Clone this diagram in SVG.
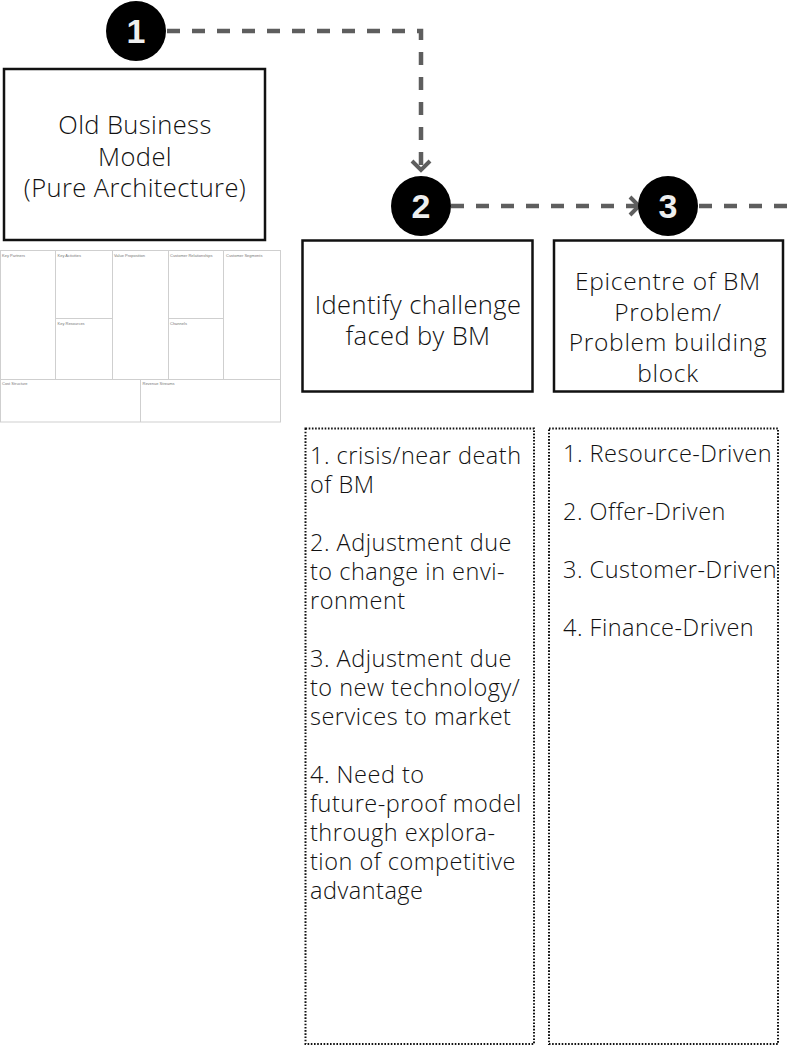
<svg xmlns="http://www.w3.org/2000/svg" width="787" height="1047" viewBox="0 0 787 1047">
  <defs>
    <style>
      .box { fill: #fff; stroke: #111; stroke-width: 2.5; }
      .dotbox { fill: none; stroke: #111; stroke-width: 2; stroke-dasharray: 1.6 1.6; }
      .label { font-family: "Open Sans", "Liberation Sans", sans-serif; font-weight: 300; font-size: 25.5px; letter-spacing: 0.4px; fill: #111; text-anchor: middle; }
      .label.tight { font-size: 24.5px; letter-spacing: 0.7px; }
      .item { font-family: "Open Sans", "Liberation Sans", sans-serif; font-weight: 300; font-size: 23.5px; letter-spacing: 0.5px; fill: #111; }
      .badge { fill: #000; }
      .num { font-family: "Liberation Sans", Arial, sans-serif; font-weight: bold; font-size: 34px; fill: #eeeeee; text-anchor: middle; }
      .link { fill: none; stroke: #5e5e5e; stroke-width: 4.5; stroke-dasharray: 13 12; }
      .cv { fill: none; stroke: #cfcfcf; stroke-width: 1; }
      .cvt { font-family: "Liberation Sans", Arial, sans-serif; font-size: 4px; fill: #777; }
    </style>
    <marker id="chevron" markerWidth="24" markerHeight="24" refX="12" refY="12" orient="auto" markerUnits="userSpaceOnUse">
      <polyline points="3,3 12,12 3,21" fill="none" stroke="#5e5e5e" stroke-width="4"/>
    </marker>
  </defs>

  <rect width="787" height="1047" fill="#fff"/>

  <!-- connectors between the numbered steps -->
  <g id="connectors">
    <polyline class="link" points="167,31 421,31 421,170" marker-end="url(#chevron)"/>
    <line class="link" x1="451" y1="206" x2="639" y2="206" marker-end="url(#chevron)"/>
    <line class="link" x1="699" y1="206" x2="787" y2="206"/>
  </g>

  <!-- step badges -->
  <g id="step1">
    <circle class="badge" cx="136" cy="31" r="30"/>
    <text class="num" x="136" y="43">1</text>
  </g>
  <g id="step2">
    <circle class="badge" cx="421" cy="206" r="30"/>
    <text class="num" x="421" y="218">2</text>
  </g>
  <g id="step3">
    <circle class="badge" cx="668" cy="206" r="30"/>
    <text class="num" x="668" y="218">3</text>
  </g>

  <!-- old business model -->
  <g id="old-model">
    <rect class="box" x="4" y="69" width="261" height="171"/>
    <text class="label" x="135" y="134">Old Business</text>
    <text class="label" x="135" y="165.5">Model</text>
    <text class="label" x="135" y="197">(Pure Architecture)</text>
  </g>

  <!-- business model canvas thumbnail -->
  <g id="canvas">
    <rect class="cv" x="0.5" y="250.5" width="280" height="171.5"/>
    <line class="cv" x1="55.5" y1="250.5" x2="55.5" y2="379.5"/>
    <line class="cv" x1="112.5" y1="250.5" x2="112.5" y2="379.5"/>
    <line class="cv" x1="168.5" y1="250.5" x2="168.5" y2="379.5"/>
    <line class="cv" x1="223.5" y1="250.5" x2="223.5" y2="379.5"/>
    <line class="cv" x1="55.5" y1="318.5" x2="112.5" y2="318.5"/>
    <line class="cv" x1="168.5" y1="318.5" x2="223.5" y2="318.5"/>
    <line class="cv" x1="0.5" y1="379.5" x2="280.5" y2="379.5"/>
    <line class="cv" x1="140.5" y1="379.5" x2="140.5" y2="422"/>
    <text class="cvt" x="2" y="257">Key Partners</text>
    <text class="cvt" x="57.5" y="257">Key Activities</text>
    <text class="cvt" x="114" y="257">Value Proposition</text>
    <text class="cvt" x="170" y="257">Customer Relationships</text>
    <text class="cvt" x="226" y="257">Customer Segments</text>
    <text class="cvt" x="57.5" y="324.5">Key Resources</text>
    <text class="cvt" x="170" y="324.5">Channels</text>
    <text class="cvt" x="2" y="385">Cost Structure</text>
    <text class="cvt" x="142.5" y="385">Revenue Streams</text>
  </g>

  <!-- step 2 -->
  <g id="challenge">
    <rect class="box" x="302.5" y="240.5" width="230" height="151"/>
    <text class="label" x="418" y="314">Identify challenge</text>
    <text class="label" x="418" y="345">faced by BM</text>
  </g>

  <!-- step 3 -->
  <g id="epicentre">
    <rect class="box" x="554" y="240.5" width="229" height="151"/>
    <text class="label tight" x="668" y="290">Epicentre of BM</text>
    <text class="label tight" x="668" y="320.5">Problem/</text>
    <text class="label tight" x="668" y="351">Problem building</text>
    <text class="label tight" x="668" y="381.5">block</text>
  </g>

  <!-- challenge types -->
  <g id="challenge-list">
    <rect class="dotbox" x="305.5" y="428.5" width="228.5" height="615.5"/>
    <text class="item">
      <tspan x="310" y="464">1. crisis/near death</tspan>
      <tspan x="310" y="493">of BM</tspan>
      <tspan x="310" y="551">2. Adjustment due</tspan>
      <tspan x="310" y="580">to change in  envi-</tspan>
      <tspan x="310" y="609">ronment</tspan>
      <tspan x="310" y="667">3. Adjustment due</tspan>
      <tspan x="310" y="696">to new technology/</tspan>
      <tspan x="310" y="725">services to market</tspan>
      <tspan x="310" y="783">4. Need to</tspan>
      <tspan x="310" y="812">future-proof model</tspan>
      <tspan x="310" y="841">through explora-</tspan>
      <tspan x="310" y="870">tion of competitive</tspan>
      <tspan x="310" y="899">advantage</tspan>
    </text>
  </g>

  <!-- epicentre types -->
  <g id="epicentre-list">
    <rect class="dotbox" x="549" y="428.5" width="229" height="615.5"/>
    <text class="item">
      <tspan x="563" y="462">1. Resource-Driven</tspan>
      <tspan x="563" y="520">2. Offer-Driven</tspan>
      <tspan x="563" y="578">3. Customer-Driven</tspan>
      <tspan x="563" y="636">4. Finance-Driven</tspan>
    </text>
  </g>
</svg>
